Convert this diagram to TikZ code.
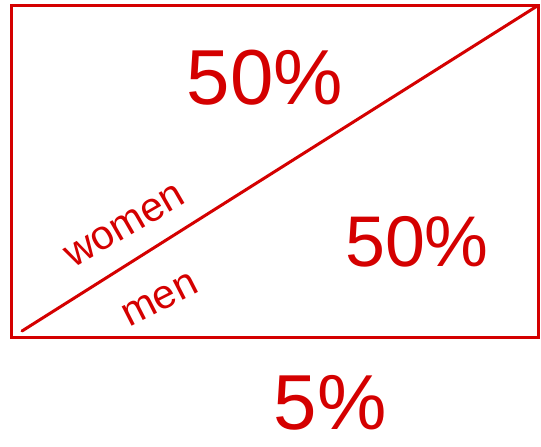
\documentclass[tikz,border=0pt]{standalone}
\usepackage{fontspec}
\setmainfont{Liberation Sans}
\usetikzlibrary{calc,positioning}
\definecolor{penred}{HTML}{D40000}
\tikzset{
  pen/.style={draw=penred,line width=3pt,line cap=round},
  pct/.style={text=penred,font=\fontsize{78}{78}\selectfont,inner sep=0pt},
  lbl/.style={text=penred,font=\fontsize{41}{41}\selectfont,inner sep=0pt}
}
\begin{document}
\begin{tikzpicture}[x=1pt,y=-1pt]
\useasboundingbox (0,0) rectangle (541,447);
% box and diagonal
\coordinate (tl) at (11.5,5.5);
\coordinate (br) at (538,337);
\coordinate (tr) at (538,5.5);
\coordinate (diag0) at (22,331);
\draw[pen,line cap=butt] (tl) rectangle (br);
\draw[pen] (diag0) -- (tr);
% shares
\node[pct] (upper) at (265,78) {50\%};
\node[pct,scale=0.92] (lower) at (417,242) {50\%};
\node[lbl,rotate=30] (women) at (125,226) {women};
\node[lbl,rotate=27] (men) at (160,300) {men};
\node[pct] (gap) at (330,403) {5\%};
\end{tikzpicture}
\end{document}
